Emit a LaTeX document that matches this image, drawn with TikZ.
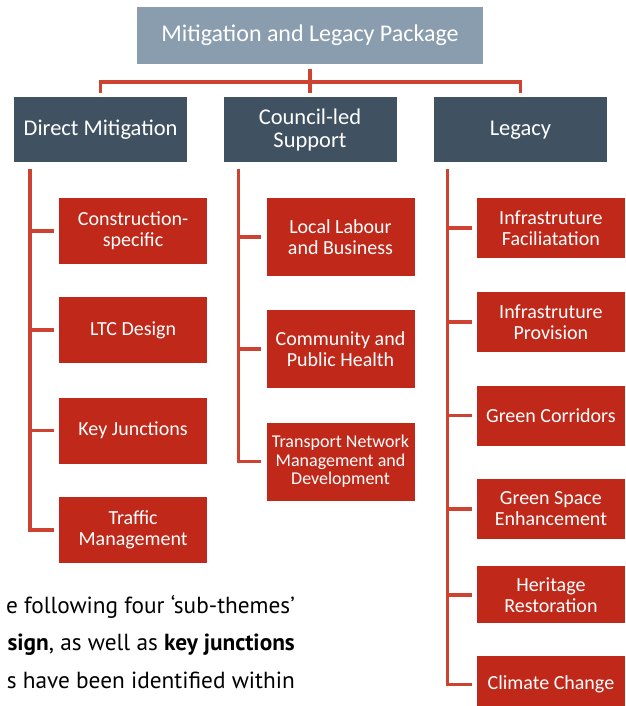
\documentclass[tikz,border=0pt]{standalone}
\usepackage{fontspec}
\setmainfont{Carlito}
\newfontfamily\bodyfont{PT Sans}
\usetikzlibrary{positioning}

\definecolor{headgrey}{RGB}{138,157,175}
\definecolor{themeslate}{RGB}{64,82,97}
\definecolor{subred}{RGB}{192,41,26}
\definecolor{linkred}{RGB}{206,66,50}

\begin{document}
\begin{tikzpicture}[
  x=1pt, y=1pt,
  node distance=33pt,
  head/.style={fill=headgrey, text=white, minimum width=346pt, minimum height=57pt, font=\fontsize{24}{26}\selectfont},
  theme/.style={fill=themeslate, text=white, minimum width=173pt, minimum height=65pt, align=center, font=\fontsize{22.5}{23}\selectfont},
  sub/.style={fill=subred, text=white, minimum width=148pt, minimum height=60pt, align=center, inner sep=2pt, font=\fontsize{20}{21}\selectfont},
  para/.style={anchor=base east, inner sep=0pt, font=\bodyfont\fontsize{23.3}{28}\selectfont},
  link/.style={draw=linkred, line width=3.5pt}
]
  \useasboundingbox (0,0) rectangle (625,-706);
  \clip (0,0) rectangle (625,-706);

  % top level and themes
  \node[head] (top) at (310,-35.5) {Mitigation and Legacy Package};
  \node[theme, below=33pt of top] (cs) {Council-led\\Support};
  \node[theme, left=36pt of cs] (dm) {Direct Mitigation};
  \node[theme, right=37pt of cs] (lg) {Legacy};

  % direct mitigation
  \node[sub, minimum height=66pt, below right=35pt and 45pt of dm.south west] (dm1) {Construction-\\specific};
  \node[sub, minimum height=66pt, below=33pt of dm1] (dm2) {LTC Design};
  \node[sub, minimum height=66pt, below=34pt of dm2] (dm3) {Key Junctions};
  \node[sub, minimum height=66pt, below=33pt of dm3] (dm4) {Traffic\\Management};

  % council-led support
  \node[sub, minimum height=78pt, below right=35pt and 43pt of cs.south west] (cs1) {Local Labour\\and Business};
  \node[sub, minimum height=78pt, below=34pt of cs1] (cs2) {Community and\\Public Health};
  \node[sub, minimum height=78pt, below=34pt of cs2, font=\fontsize{18}{18.5}\selectfont] (cs3) {Transport Network\\Management and\\Development};

  % legacy
  \node[sub, below right=35pt and 43pt of lg.south west] (lg1) {Infrastruture\\Faciliatation};
  \node[sub, below=34pt of lg1] (lg2) {Infrastruture\\Provision};
  \node[sub, below=33pt of lg2] (lg3) {Green Corridors};
  \node[sub, below=33pt of lg3] (lg4) {Green Space\\Enhancement};
  \node[sub, minimum height=57pt, below=27pt of lg4] (lg5) {Heritage\\Restoration};
  \node[sub, minimum height=57pt, below=32pt of lg5] (lg6) {Climate Change};

  % connectors
  \coordinate (bus) at ([yshift=-18pt]top.south);
  \draw[link, shorten <=5pt, shorten >=4pt] (top.south) -- (cs.north);
  \draw[link, shorten <=4pt, shorten >=4pt] (dm.north) |- (bus) -| (lg.north);

  \coordinate (dmt) at ([xshift=16pt,yshift=-6pt]dm.south west);
  \coordinate (cst) at ([xshift=15pt,yshift=-6pt]cs.south west);
  \coordinate (lgt) at ([xshift=14pt,yshift=-6pt]lg.south west);

  \draw[link, shorten >=5pt] (dmt) |- (dm4.west);
  \foreach \n in {dm1,dm2,dm3}
    \draw[link, shorten >=5pt] (dmt |- \n.west) -- (\n.west);
  \draw[link, shorten >=5pt] (cst) |- (cs3.west);
  \foreach \n in {cs1,cs2}
    \draw[link, shorten >=5pt] (cst |- \n.west) -- (\n.west);
  \draw[link, shorten >=5pt] (lgt) |- (lg6.west);
  \foreach \n in {lg1,lg2,lg3,lg4,lg5}
    \draw[link, shorten >=5pt] (lgt |- \n.west) -- (\n.west);

  % cropped paragraph
  \node[para] (p1) at (295,-613) {e following four ‘sub-themes’};
  \node[para] (p2) at ([yshift=-37pt]p1.base east) {\textbf{sign}, as well as \textbf{key junctions}};
  \node[para] (p3) at ([yshift=-38pt]p2.base east) {s have been identified within};
\end{tikzpicture}
\end{document}
